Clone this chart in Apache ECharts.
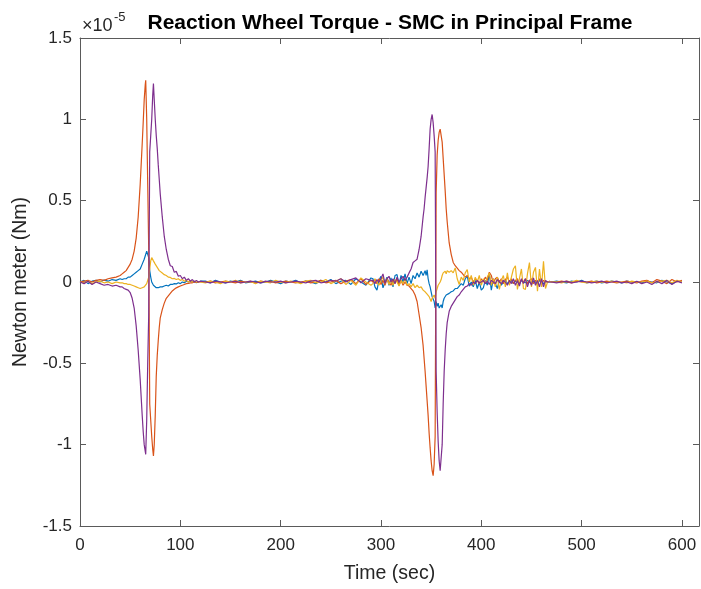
<!DOCTYPE html>
<html>
<head>
<meta charset="utf-8">
<script src="https://cdn.jsdelivr.net/npm/echarts@6.0.0/dist/echarts.min.js"></script>
<style>
  html, body { margin: 0; padding: 0; background: #fff; }
  #chart { width: 701px; height: 589px; }
</style>
</head>
<body>
<div id="chart"></div>
<script>
// time in seconds, shared by all four wheels
const time = [
  0, 4, 8, 12, 16, 20, 24, 28, 32, 36, 40,
  42, 44, 46, 48, 50, 52, 54, 56, 58, 60, 62,
  63, 64, 65, 65.5, 66.5, 67.5, 68.5, 69.5, 70.5, 71.5, 72.5, 73.2, 74, 75, 76, 77, 78, 79, 80,
  82, 84, 86, 88, 90, 92, 94, 96, 98, 100, 102, 104, 106, 108, 110, 112, 114, 116, 118, 120,
  125, 130, 135, 140, 145, 150, 155, 160, 165, 170, 175, 180, 185, 190, 195, 200, 205, 210,
  215, 220, 225, 230, 235, 240, 245, 250, 255, 260, 265, 270, 275, 280, 285, 290,
  292, 294, 296, 298, 300, 302, 304, 306, 308, 310, 312, 314, 316, 318, 320, 322, 324, 326,
  328, 330, 332, 334, 336, 338, 340, 342,
  343, 344, 345, 346, 347, 348, 349, 350, 351, 352, 353, 354, 355, 356, 357, 358, 359, 360,
  361, 362, 363, 364, 365, 366,
  368, 370, 372, 374, 376, 378, 380, 382, 384, 386, 388, 390, 392, 394, 396, 398, 400, 402,
  404, 406, 408, 410, 412, 414, 416, 418, 420, 422, 424, 426, 428, 430, 432, 434, 436, 438,
  440, 442, 444, 446, 448, 450, 452, 454, 456, 458, 460, 462, 464, 466, 468, 470,
  475, 480, 485, 490, 495, 500, 505, 510, 515, 520, 525, 530, 535, 540, 545, 550, 555, 560,
  565, 570, 575, 580, 585, 590, 595, 600
];

// torque values, units of 1e-5 Nm
const wheel1 = [
  0, 0.01, -0.01, 0.005, 0.01, 0, 0.012, 0.005, 0.015, 0.01, 0.02,
  0.015, 0.02, 0.02, 0.03, 0.03, 0.04, 0.05, 0.06, 0.07, 0.08, 0.11,
  0.12, 0.14, 0.16, 0.17, 0.19, 0.2, 0.15, 0.07, 0.03, 0, -0.01, -0.02, -0.025, -0.03, -0.035, -0.04, -0.035, -0.035, -0.03,
  -0.03, -0.025, -0.02, -0.025, -0.015, -0.015, -0.01, -0.012, -0.005, -0.01, 0, -0.005, 0.005, 0, 0.005, 0, 0.005, -0.005, 0, 0.005,
  0.005, -0.005, 0.01, 0, -0.005, 0.005, 0, 0.01, -0.005, 0, 0.005, -0.005, 0, 0.01, 0, -0.01, 0.005, 0,
  0.01, -0.005, 0.005, 0, -0.01, 0.01, 0, 0.015, -0.01, 0.005, 0.01, -0.015, 0.02, 0, -0.02, 0.025,
  0.02, -0.03, -0.05, 0.01, 0.035, -0.036, 0, 0.03, -0.02, 0.025, -0.03, 0.04, 0.046, -0.02, 0.04, 0, 0.05, -0.01,
  0.03, -0.01, 0.04, 0.02, 0.055, 0.03, 0.066, 0.04,
  0.05, 0.07, 0.04, 0.075, 0.02, -0.01, -0.03, -0.06, -0.09, -0.08, -0.12, -0.16, -0.12, -0.15, -0.13, -0.16, -0.17, -0.14,
  -0.16, -0.12, -0.1, -0.11, -0.08, -0.09,
  -0.07, -0.06, -0.055, -0.04, -0.04, -0.025, -0.01, -0.02, 0.02, 0.036, -0.026, 0, -0.03, 0.01, -0.04, 0, -0.05, -0.036,
  0.01, -0.02, 0.05, -0.05, 0.02, -0.01, -0.04, 0.01, -0.02, 0, 0.015, -0.01, 0, 0.01, -0.01, 0.005, 0, -0.01,
  0.01, 0, -0.005, 0.01, 0, -0.01, 0.005, 0, -0.01, 0.01, 0, -0.01, 0.005, 0, 0, 0,
  0.005, 0, -0.005, 0.005, 0, 0.01, -0.005, 0, 0.005, -0.005, 0, 0.005, 0, -0.005, 0.005, 0, 0, -0.005,
  0.005, 0, -0.005, 0.01, 0, -0.01, 0.005, 0
];
const wheel2 = [
  0, 0.005, 0.01, 0, 0.01, 0.015, 0.01, 0.02, 0.025, 0.03, 0.04,
  0.05, 0.06, 0.07, 0.09, 0.11, 0.14, 0.19, 0.27, 0.4, 0.6, 0.85,
  0.98, 1.12, 1.21, 1.24, 1.0, 0.6, 0.2, -0.75, -0.85, -0.95, -1.03, -1.07, -1.0, -0.82, -0.58, -0.45, -0.36, -0.28, -0.22,
  -0.17, -0.13, -0.1, -0.085, -0.07, -0.055, -0.045, -0.036, -0.03, -0.025, -0.02, -0.015, -0.01, -0.008, -0.005, -0.005, 0, -0.003, 0, 0,
  0, 0.005, -0.005, 0, 0.005, 0, -0.005, 0.005, 0, 0, -0.005, 0.005, 0, 0.005, -0.005, 0, 0.005, 0,
  -0.005, 0, 0.005, -0.005, 0, 0.01, -0.005, 0, 0.01, -0.01, 0.005, 0.015, -0.01, 0.02, -0.015, 0.01,
  0, 0.015, -0.01, 0.02, -0.015, 0.01, -0.02, 0.02, 0, -0.02, 0.015, -0.01, 0.02, -0.02, 0.01, -0.02, 0, -0.02,
  -0.025, -0.04, -0.055, -0.08, -0.12, -0.2, -0.28, -0.39,
  -0.47, -0.55, -0.64, -0.73, -0.82, -0.93, -1.02, -1.1, -1.16, -1.19, -1.12, -0.95, 0.55, 0.78, 0.87, 0.92, 0.94, 0.93,
  0.86, 0.76, 0.66, 0.56, 0.45, 0.37,
  0.24, 0.17, 0.12, 0.1, 0.085, 0.07, 0.06, 0.045, 0.03, 0.04, 0.02, 0.03, 0, 0.02, 0.01, -0.01, 0.02, 0,
  0.03, 0.01, 0.06, 0.04, -0.01, 0.02, 0.03, 0, 0.02, -0.01, 0.015, 0.03, 0, 0.02, -0.01, 0.01, 0.02, -0.01,
  0.015, 0, 0.02, -0.01, 0.01, 0.02, -0.01, 0.01, 0, 0.02, -0.01, 0.01, 0, 0, 0.005, 0,
  0, 0.005, 0, -0.005, 0.005, 0, 0, 0.005, -0.005, 0, 0.005, 0, -0.005, 0, 0.005, 0, -0.005, 0.005,
  0.01, -0.005, 0.015, 0.005, -0.01, 0.015, 0, 0.01
];
const wheel3 = [
  0, -0.005, 0.005, -0.01, 0, 0.005, -0.005, 0, -0.01, 0, -0.005,
  -0.005, -0.01, -0.01, -0.015, -0.015, -0.02, -0.025, -0.03, -0.035, -0.04, -0.035,
  -0.03, -0.03, -0.025, -0.02, -0.01, 0.01, 0.03, 0.08, 0.13, 0.15, 0.14, 0.13, 0.12, 0.11, 0.1, 0.09, 0.08, 0.07, 0.065,
  0.055, 0.045, 0.04, 0.03, 0.028, 0.02, 0.022, 0.015, 0.02, 0.01, 0.015, 0.005, 0.01, 0, 0.008, 0, 0.005, 0, 0.003, 0,
  -0.005, 0.005, 0, -0.01, 0.005, 0, 0.01, -0.005, 0, 0.005, -0.01, 0.005, 0, -0.005, 0.01, 0, -0.005, 0.005,
  0, -0.01, 0.005, 0.01, -0.005, 0, 0.015, -0.01, 0.005, 0.02, -0.015, 0.01, -0.02, 0.025, 0, -0.02,
  -0.01, 0.02, 0, -0.02, 0.01, 0.03, -0.01, 0.02, -0.015, 0.01, -0.02, 0.015, 0, -0.025, 0.01, -0.01, 0.02, -0.02,
  -0.01, -0.03, -0.01, -0.035, -0.02, -0.035, -0.03, -0.05,
  -0.055, -0.06, -0.05, -0.075, -0.08, -0.09, -0.1, -0.12, -0.1, -0.11, -0.08, -0.1, -0.06, -0.04, -0.02, -0.03, 0, 0.015,
  0.04, 0.056, 0.05, 0.066, 0.05, 0.07,
  0.06, 0.07, 0.056, 0.087, 0.02, -0.015, 0.03, 0.01, 0.056, 0.077, 0, 0.04, -0.02, 0.03, 0, 0.04, -0.02, 0.02,
  -0.01, 0.03, 0.056, -0.02, 0.02, -0.03, 0.03, -0.046, 0.01, 0.04, -0.03, 0.056, -0.02, 0.03, 0.08, 0.1, -0.046, 0.02,
  0.08, -0.04, -0.046, 0.05, 0.12, -0.03, 0.06, 0.09, -0.056, 0.08, -0.03, 0.128, -0.04, 0, 0.005, 0,
  0, -0.005, 0.005, 0, 0.01, 0, -0.005, 0, 0.005, 0, -0.005, 0.005, 0, 0, -0.005, 0.005, 0, 0,
  0.005, -0.005, 0, 0.005, 0.01, -0.005, 0.01, 0
];
const wheel4 = [
  0, -0.01, 0.005, -0.015, 0, -0.01, -0.02, -0.015, -0.025, -0.02, -0.03,
  -0.03, -0.04, -0.045, -0.05, -0.065, -0.1, -0.16, -0.27, -0.42, -0.6, -0.82,
  -0.92, -1.0, -1.04, -1.06, -0.85, -0.5, -0.2, 0.8, 0.9, 1.0, 1.15, 1.22, 1.12, 1.0, 0.9, 0.82, 0.72, 0.63, 0.54,
  0.4, 0.28, 0.2, 0.14, 0.1, 0.095, 0.06, 0.065, 0.035, 0.04, 0.02, 0.03, 0.01, 0.02, 0.005, 0.015, 0, 0.01, 0, 0.005,
  0, -0.005, 0.005, 0, -0.005, 0, 0.005, -0.005, 0, 0.005, 0, -0.005, 0.005, 0, 0, 0.005, -0.005, 0,
  0.005, 0, -0.005, 0.005, 0.01, -0.005, 0, 0.01, 0.005, 0.02, 0, 0.015, 0.025, -0.005, 0.02, 0.01,
  0.01, -0.01, 0.015, 0, 0.02, 0.05, -0.01, 0.02, 0.035, 0, 0.02, -0.01, 0.03, 0, 0.02, 0.035, 0.01, 0.03,
  0.056, 0.08, 0.12, 0.13, 0.14, 0.2, 0.28, 0.4,
  0.45, 0.52, 0.58, 0.64, 0.71, 0.82, 0.94, 1.0, 1.03, 0.98, 0.9, 0.8, -0.55, -0.8, -0.98, -1.1, -1.16, -1.15,
  -1.0, -0.75, -0.55, -0.42, -0.32, -0.25,
  -0.18, -0.15, -0.13, -0.11, -0.09, -0.08, -0.06, -0.045, -0.03, -0.025, -0.01, -0.02, 0, -0.01, 0.01, -0.005, 0, 0.01,
  -0.01, 0.005, -0.015, 0.01, 0, -0.01, 0.015, 0, -0.01, 0.01, 0, -0.02, 0.01, -0.01, 0.02, -0.02, 0.01, -0.025,
  0.02, -0.01, 0.02, -0.03, 0.01, -0.02, 0.025, -0.02, 0.01, -0.03, 0.02, -0.03, 0.01, 0, 0, 0,
  -0.005, 0, 0.005, -0.005, 0, 0.005, 0, -0.005, 0, 0.005, -0.005, 0, 0.005, -0.005, 0, -0.01, 0.005, -0.01,
  0, -0.015, 0.005, -0.01, 0.01, -0.015, 0.005, -0.005
];

const xTicks = [0, 100, 200, 300, 400, 500, 600];
const colors = ['#0072BD', '#D95319', '#EDB120', '#7E2F8E'];
const font = '"Liberation Sans", Arial, Helvetica, sans-serif';
const textColor = '#262626';
const axisColor = '#5a5a5a';

[wheel1, wheel2, wheel3, wheel4].forEach((w, i) => {
  if (w.length !== time.length) console.error('length mismatch', i, w.length, time.length);
});

function pairs(vals) {
  return time.map((t, i) => [t, vals[i]]);
}

let chart = echarts.init(document.getElementById('chart'));

const xBase = {
  type: 'value',
  min: 0,
  max: 617,
  splitLine: { show: false },
  axisLine: { onZero: false, lineStyle: { color: axisColor, width: 1 } },
  axisTick: { inside: true, length: 6, customValues: xTicks, lineStyle: { color: axisColor } }
};
const yBase = {
  type: 'value',
  min: -1.5,
  max: 1.5,
  interval: 0.5,
  splitLine: { show: false },
  axisLine: { onZero: false, lineStyle: { color: axisColor, width: 1 } },
  axisTick: { inside: true, length: 6, lineStyle: { color: axisColor } }
};

const option = {
  animation: false,
  backgroundColor: '#fff',
  grid: { left: 80, right: 2, top: 38, bottom: 62, containLabel: false },
  xAxis: [
    Object.assign({}, xBase, {
      position: 'bottom',
      axisLabel: { customValues: xTicks, fontSize: 17, color: textColor, fontFamily: font, margin: 11 },
      name: 'Time (sec)',
      nameLocation: 'middle',
      nameGap: 38,
      nameTextStyle: { fontSize: 19.5, color: textColor, fontFamily: font }
    }),
    Object.assign({}, xBase, { position: 'top', axisLabel: { show: false } })
  ],
  yAxis: [
    Object.assign({}, yBase, {
      position: 'left',
      axisLabel: { fontSize: 17, color: textColor, fontFamily: font, margin: 8 },
      name: 'Newton meter (Nm)',
      nameLocation: 'middle',
      nameGap: 49,
      nameTextStyle: { fontSize: 19.5, color: textColor, fontFamily: font }
    }),
    Object.assign({}, yBase, { position: 'right', axisLabel: { show: false } })
  ],
  graphic: [
    {
      type: 'text', x: 390, y: 23.4,
      style: {
        text: 'Reaction Wheel Torque - SMC in Principal Frame',
        font: 'bold 21px ' + font, fill: '#000',
        textAlign: 'center', textVerticalAlign: 'middle'
      }
    },
    {
      type: 'text', x: 82, y: 26.4,
      style: { text: '\u00d710', font: '18px ' + font, fill: textColor, textAlign: 'left', textVerticalAlign: 'middle' }
    },
    {
      type: 'text', x: 114, y: 17.5,
      style: { text: '-5', font: '13px ' + font, fill: textColor, textAlign: 'left', textVerticalAlign: 'middle' }
    }
  ],
  series: [wheel1, wheel2, wheel3, wheel4].map((w, i) => ({
    type: 'line',
    data: pairs(w),
    showSymbol: false,
    symbol: 'none',
    lineStyle: { width: 1.2, color: colors[i] },
    itemStyle: { color: colors[i] },
    clip: true
  }))
};

chart.setOption(option);
</script>
</body>
</html>
